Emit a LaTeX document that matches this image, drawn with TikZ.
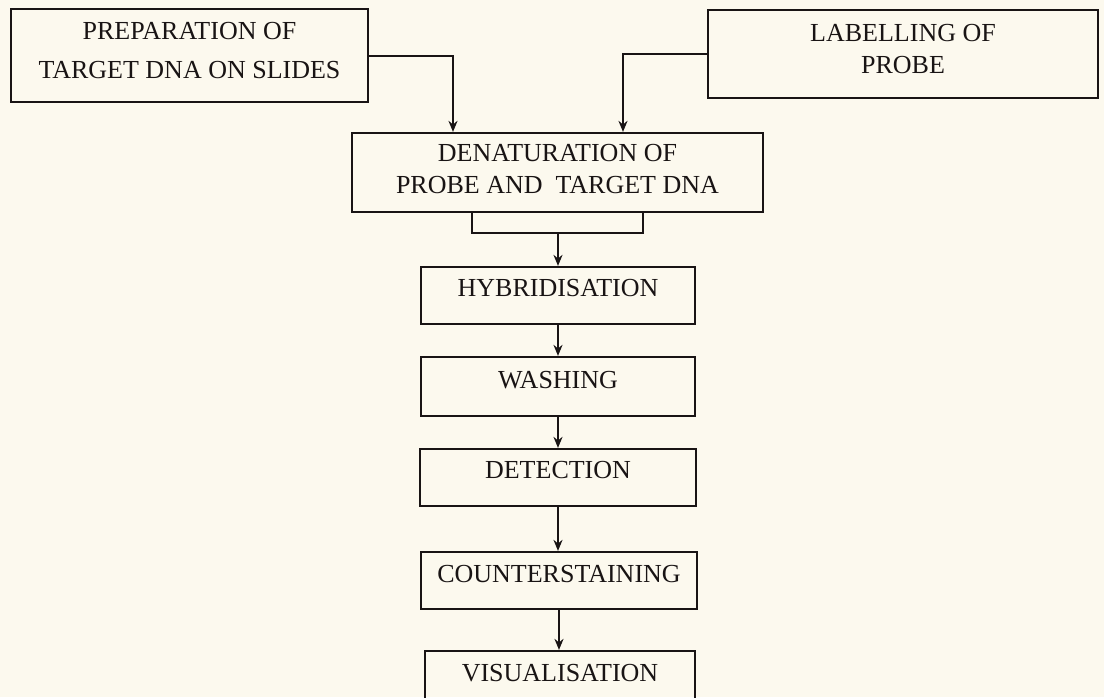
\documentclass[tikz,border=0pt]{standalone}
\usepackage{fontspec}
\setmainfont{Liberation Serif}
\usetikzlibrary{arrows.meta}
\definecolor{paper}{RGB}{252,249,238}
\definecolor{ink}{RGB}{25,20,20}
\newcommand\bxt[2]{\raisebox{#1}[0pt][0pt]{\begin{tabular}{@{}c@{}}#2\end{tabular}}}
\begin{document}
\begin{tikzpicture}[x=1pt,y=-1pt,
  stage/.style={draw=ink, line width=2.2pt, inner sep=0pt, font=\fontsize{26}{32}\selectfont, text=ink},
  conn/.style={draw=ink, line width=2pt},
  arr/.style={conn, -{Stealth[length=11pt,width=9pt]}}]
\useasboundingbox (0,0) rectangle (1104,697);
\clip (0,0) rectangle (1104,697);
\fill[paper] (0,0) rectangle (1104,697);
% stages
\node[stage, minimum width=357pt, minimum height=93pt] (prep) at (189.5,55.5)
  {\bxt{-3.7pt}{PREPARATION OF\\[7pt] TARGET DNA ON SLIDES}};
\node[stage, minimum width=390pt, minimum height=88pt] (label) at (903,54)
  {\bxt{-3.7pt}{LABELLING OF\\ PROBE}};
\node[stage, minimum width=411pt, minimum height=79pt] (denat) at (557.5,172.5)
  {\bxt{-5.2pt}{DENATURATION OF\\ PROBE AND~ TARGET DNA}};
\node[stage, minimum width=274pt, minimum height=57pt] (hyb) at (558,295.5)
  {\bxt{-1.2pt}{HYBRIDISATION}};
\node[stage, minimum width=274pt, minimum height=59pt] (wash) at (558,386.5)
  {\bxt{-1.7pt}{WASHING}};
\node[stage, minimum width=276pt, minimum height=57pt] (detect) at (558,477.5)
  {\bxt{-1.2pt}{DETECTION}};
\node[stage, minimum width=276pt, minimum height=57pt] (counter) at (559,580.5)
  {\bxt{-1.7pt}{COUNTERSTAINING}};
\node[stage, minimum width=270pt, minimum height=59pt] (vis) at (560,680.5)
  {\bxt{-0.5pt}{VISUALISATION}};
% connectors
\coordinate (join) at (558,233);
\draw[arr] (prep.east) -| ([xshift=-104.5pt]denat.north);
\draw[arr] (label.west) -| ([xshift=65.5pt]denat.north);
\draw[conn] ([xshift=-85.5pt]denat.south) |- (join) -| ([xshift=85.5pt]denat.south);
\draw[arr] (join) -- (join |- hyb.north);
\draw[arr] (hyb.south) -- (hyb.south |- wash.north);
\draw[arr] (wash.south) -- (wash.south |- detect.north);
\draw[arr] (detect.south) -- (detect.south |- counter.north);
\draw[arr] (counter.south) -- (counter.south |- vis.north);
\end{tikzpicture}
\end{document}
